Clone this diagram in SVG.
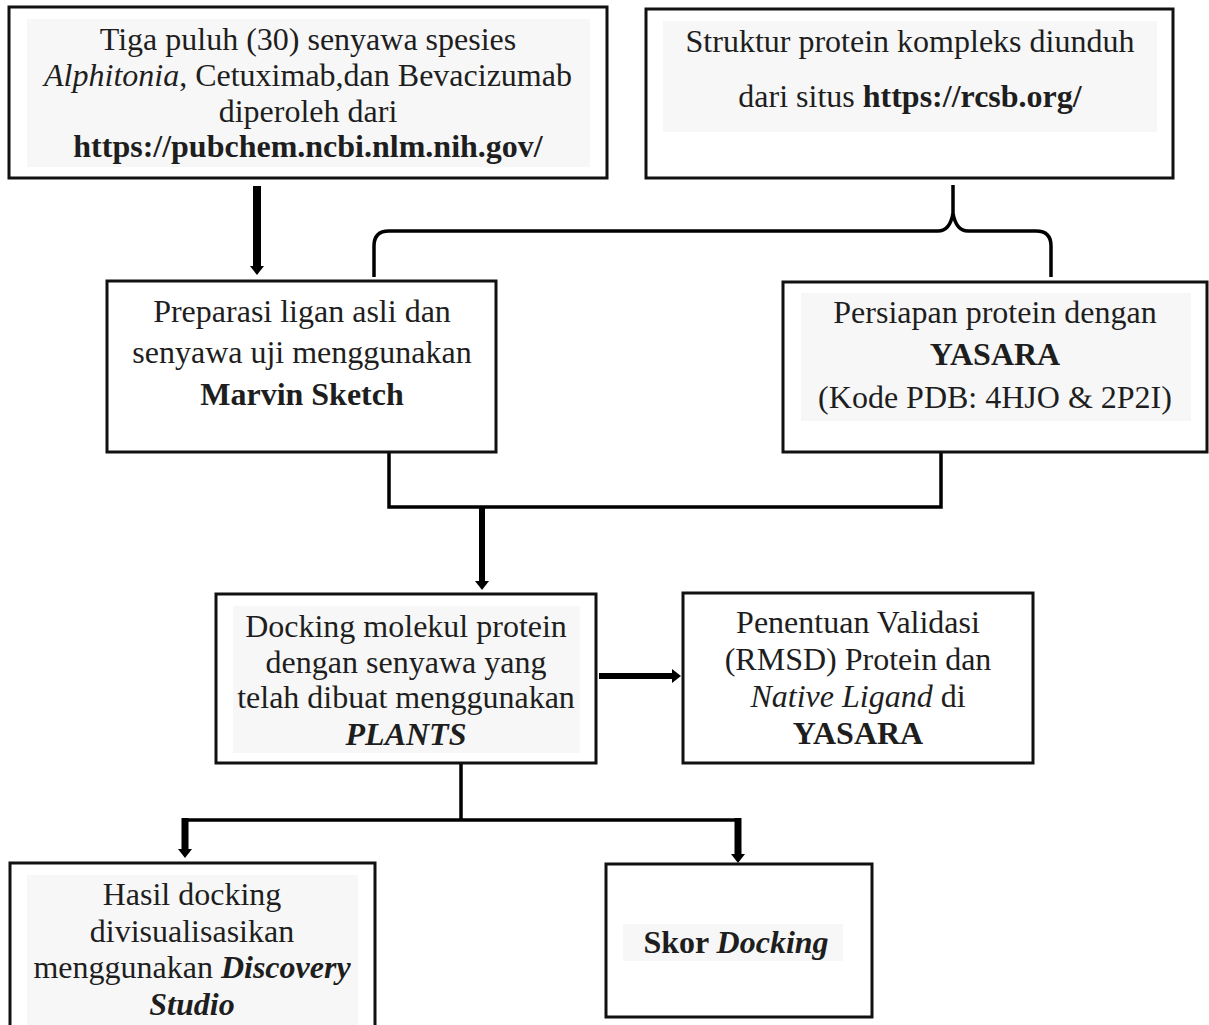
<svg xmlns="http://www.w3.org/2000/svg" width="1209" height="1025" viewBox="0 0 1209 1025">
<defs>
<style>
.box{fill:#ffffff;stroke:#111111;stroke-width:3}
.hl{fill:#f7f7f7;stroke:none}
.t{font-family:"Liberation Serif","Times New Roman",serif;font-size:32px;fill:#1e1e1e;text-anchor:middle}
.b{font-weight:bold}
.i{font-style:italic}
.ln{fill:none;stroke:#000000;stroke-width:3.5}
.ar{fill:none;stroke:#000000}
</style>
<marker id="ah" markerUnits="userSpaceOnUse" viewBox="0 0 9 14" refX="0" refY="7" markerWidth="9" markerHeight="14" orient="auto">
<path d="M0,0 L9,7 L0,14 Z" fill="#000000"/>
</marker>
</defs>
<rect width="1209" height="1025" fill="#ffffff"/>

<g id="connectors">
<line class="ar" x1="257" y1="186" x2="257" y2="266" stroke-width="8" marker-end="url(#ah)"/>
<path class="ln" stroke-width="3" d="M374,277 V246 Q374,231 389,231 H938 Q950,231 953,213 V185 M953,213 Q956,231 968,231 H1036 Q1051,231 1051,246 V277"/>
<path class="ln" d="M389,452 V507 H941 V452"/>
<line class="ar" x1="482" y1="506" x2="482" y2="581" stroke-width="6" marker-end="url(#ah)"/>
<line class="ar" x1="599" y1="676" x2="672" y2="676" stroke-width="6" marker-end="url(#ah)"/>
<path class="ln" stroke-width="4" d="M461,763 V820 M183,820 H740"/>
<line class="ar" x1="185" y1="818" x2="185" y2="849" stroke-width="7" marker-end="url(#ah)"/>
<line class="ar" x1="738" y1="818" x2="738" y2="854" stroke-width="7" marker-end="url(#ah)"/>
</g>

<g id="node-pubchem">
<rect class="box" x="9" y="7" width="598" height="171"/>
<rect class="hl" x="27" y="19" width="563" height="148"/>
<text class="t" x="308" y="50">Tiga puluh (30) senyawa spesies</text>
<text class="t" x="308" y="86"><tspan class="i">Alphitonia</tspan>, Cetuximab,dan Bevacizumab</text>
<text class="t" x="308" y="122">diperoleh dari</text>
<text class="t b" x="308" y="157">https://pubchem.ncbi.nlm.nih.gov/</text>
</g>

<g id="node-rcsb">
<rect class="box" x="646" y="9" width="527" height="169"/>
<rect class="hl" x="663" y="21" width="494" height="111"/>
<text class="t" x="910" y="52">Struktur protein kompleks diunduh</text>
<text class="t" x="910" y="107">dari situs <tspan class="b">https://rcsb.org/</tspan></text>
</g>

<g id="node-marvin">
<rect class="box" x="107" y="281" width="389" height="171"/>
<text class="t" x="302" y="322">Preparasi ligan asli dan</text>
<text class="t" x="302" y="363">senyawa uji menggunakan</text>
<text class="t b" x="302" y="405">Marvin Sketch</text>
</g>

<g id="node-yasara-prep">
<rect class="box" x="783" y="282" width="424" height="170"/>
<rect class="hl" x="801" y="293" width="390" height="128"/>
<text class="t" x="995" y="323">Persiapan protein dengan</text>
<text class="t b" x="995" y="365">YASARA</text>
<text class="t" x="995" y="408">(Kode PDB: 4HJO &amp; 2P2I)</text>
</g>

<g id="node-docking">
<rect class="box" x="216" y="594" width="380" height="169"/>
<rect class="hl" x="233" y="606" width="347" height="147"/>
<text class="t" x="406" y="637">Docking molekul protein</text>
<text class="t" x="406" y="673">dengan senyawa yang</text>
<text class="t" x="406" y="708">telah dibuat menggunakan</text>
<text class="t b i" x="406" y="745">PLANTS</text>
</g>

<g id="node-validasi">
<rect class="box" x="683" y="593" width="350" height="170"/>
<text class="t" x="858" y="633">Penentuan Validasi</text>
<text class="t" x="858" y="670">(RMSD) Protein dan</text>
<text class="t" x="858" y="707"><tspan class="i">Native Ligand</tspan> di</text>
<text class="t b" x="858" y="744">YASARA</text>
</g>

<g id="node-visual">
<rect class="box" x="10" y="863" width="365" height="180"/>
<rect class="hl" x="27" y="875" width="331" height="150"/>
<text class="t" x="192" y="905">Hasil docking</text>
<text class="t" x="192" y="942">divisualisasikan</text>
<text class="t" x="192" y="978">menggunakan<tspan class="b i"> Discovery</tspan></text>
<text class="t b i" x="192" y="1015">Studio</text>
</g>

<g id="node-skor">
<rect class="box" x="606" y="864" width="266" height="153"/>
<rect class="hl" x="623" y="924" width="220" height="37"/>
<text class="t b" x="736" y="953">Skor <tspan class="i">Docking</tspan></text>
</g>
</svg>
